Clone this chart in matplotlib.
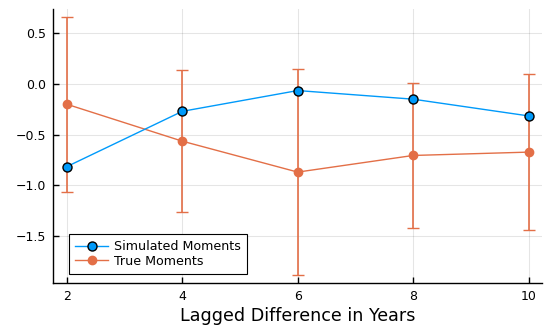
import numpy as np
import matplotlib.pyplot as plt

# lag lengths (years) and moments
lags = [2, 4, 6, 8, 10]
simulated = [-0.815, -0.27, -0.065, -0.15, -0.315]
true_moments = [-0.20, -0.564, -0.869, -0.705, -0.672]
true_err = [0.863, 0.70, 1.017, 0.718, 0.77]

blue = '#009AFA'
orange = '#E36F47'

fig = plt.figure(figsize=(5.44, 3.32), dpi=100)
ax = fig.add_axes([0.0974, 0.1476, 0.8996, 0.8254])

ax.plot(lags, simulated, color=blue, lw=1, marker='o', ms=6.5,
        mfc=blue, mec='black', mew=1, label='Simulated Moments', zorder=3)
# error bars drawn on their own so the legend shows only line + marker
ax.errorbar(lags, true_moments, yerr=true_err, fmt='none', ecolor=orange,
            elinewidth=1.2, capsize=4.5, capthick=1, zorder=2)
ax.plot(lags, true_moments, color=orange, lw=1, marker='o', ms=6,
        mfc=orange, mec=orange, label='True Moments', zorder=2)

# limits with 3% padding like the original
lo = min(np.array(true_moments) - np.array(true_err))
hi = max(np.array(true_moments) + np.array(true_err))
pad = 0.03 * (hi - lo)
ax.set_ylim(lo - pad, hi + pad)
ax.set_xlim(2 - 0.24, 10 + 0.24)

ax.set_xticks(lags)
ax.set_yticks([0.5, 0.0, -0.5, -1.0, -1.5])
ax.set_yticklabels(['0.5', '0.0', '\u22120.5', '\u22121.0', '\u22121.5'])
ax.tick_params(direction='in', length=4, width=1, labelsize=9, pad=5)
ax.grid(True, color='black', alpha=0.1, lw=0.8)
ax.set_axisbelow(True)
for side in ['top', 'right']:
    ax.spines[side].set_visible(False)
for side in ['left', 'bottom']:
    ax.spines[side].set_linewidth(1)

ax.set_xlabel('Lagged Difference in Years', fontsize=12.6, labelpad=3)

leg = ax.legend(loc='lower left', bbox_to_anchor=(0.033, 0.033), fontsize=9.1,
                fancybox=False, framealpha=1, edgecolor='black',
                borderpad=0.5, labelspacing=0.1, handlelength=2.6,
                handletextpad=0.45, borderaxespad=0)
leg.get_frame().set_linewidth(0.8)

fig.savefig('out.png', dpi=100)
